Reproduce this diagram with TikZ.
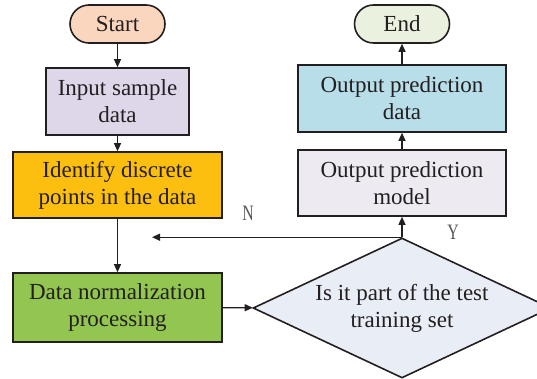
\documentclass[tikz,border=0pt]{standalone}
\usepackage{fontspec}
\setmainfont{Liberation Serif}
\usetikzlibrary{shapes.geometric,arrows.meta}
\definecolor{cstart}{RGB}{250,214,190}
\definecolor{cinput}{RGB}{221,215,233}
\definecolor{cident}{RGB}{252,191,16}
\definecolor{cnorm}{RGB}{146,198,80}
\definecolor{cdiam}{RGB}{233,238,246}
\definecolor{cmodel}{RGB}{237,234,242}
\definecolor{cdata}{RGB}{183,222,233}
\definecolor{cend}{RGB}{235,241,223}
\definecolor{cline}{RGB}{35,31,32}
\begin{document}
\begin{tikzpicture}[x=1pt,y=-1pt,
  every node/.style={font=\fontsize{23}{27}\selectfont, text=cline},
  box/.style={draw=cline, line width=1.6pt, rectangle, align=center, inner sep=0pt},
  term/.style={draw=cline, line width=1.6pt, rounded corners=19pt, minimum width=95pt, minimum height=38pt, inner sep=0pt},
  decide/.style={draw=cline, line width=1.6pt, diamond, shape aspect=2.13, inner sep=0pt, align=center, minimum width=298pt, minimum height=140pt, fill=cdiam},
  conn/.style={draw=cline, line width=1.2pt, -{Triangle[length=8pt,width=7pt]}},
  lbl/.style={font=\fontsize{22}{24}\selectfont, text=cline!75, xscale=0.72}
]
\useasboundingbox (0,0) rectangle (537,379);
\node[term, fill=cstart] (start) at (117.5,24) {Start};
\node[box, fill=cinput, minimum width=143pt, minimum height=67pt] (input) at (117.5,101.5) {Input sample\\data};
\node[box, fill=cident, minimum width=209pt, minimum height=66pt] (ident) at (117.5,185) {Identify discrete\\points in the data};
\node[box, fill=cnorm, minimum width=209pt, minimum height=69pt] (norm) at (117.5,307.5) {Data normalization\\processing};
\node[decide] (test) at (402,308) {Is it part of the test\\training set};
\node[box, fill=cmodel, minimum width=208pt, minimum height=66pt] (model) at (402,183) {Output prediction\\model};
\node[box, fill=cdata, minimum width=208pt, minimum height=67pt] (outdata) at (402,98.5) {Output prediction\\data};
\node[term, fill=cend] (end) at (402,24) {End};
\coordinate (nend) at (152,238);
\draw[conn] (start) -- (input);
\draw[conn] (input) -- (ident);
\draw[conn] (ident) -- (norm);
\draw[conn] (norm) -- (test);
\draw[conn] (test.north) -- (model);
\draw[conn] (model) -- (outdata);
\draw[conn] (outdata) -- (end);
\draw[conn] (test.north) -- (test.north -| nend);
\node[lbl] (nlab) at (248,213) {N};
\node[lbl] (ylab) at (453,232) {Y};
\end{tikzpicture}
\end{document}
